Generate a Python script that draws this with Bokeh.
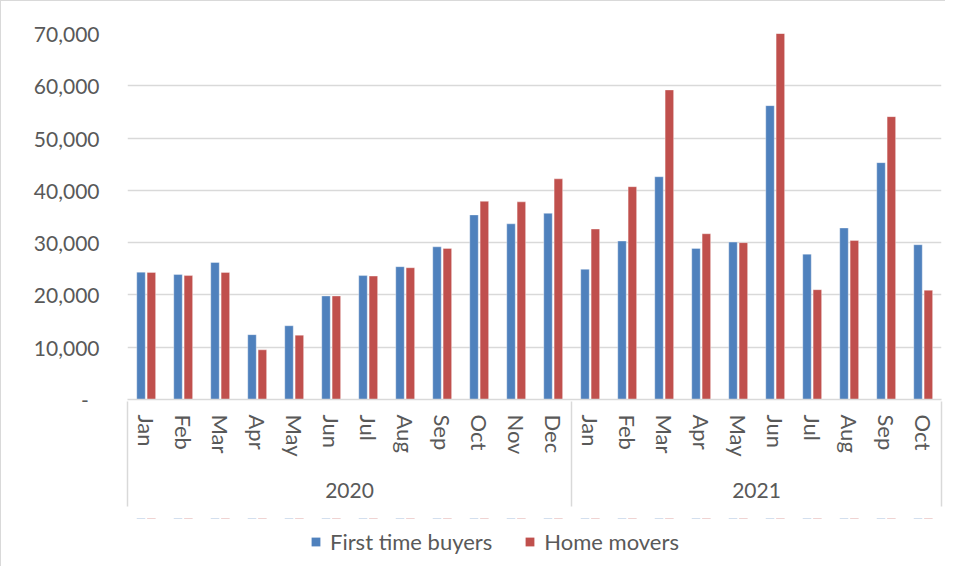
from bokeh.plotting import figure
from bokeh.layouts import column
from bokeh.models import (FactorRange, Range1d, LinearAxis, CategoricalAxis, FixedTicker,
                          NumeralTickFormatter, Legend, LegendItem, ColumnDataSource)
from bokeh.transform import dodge
from bokeh.embed import file_html
from bokeh.resources import INLINE

years = ["2020"] * 12 + ["2021"] * 10
months = ["Jan", "Feb", "Mar", "Apr", "May", "Jun", "Jul", "Aug", "Sep", "Oct", "Nov", "Dec",
          "Jan", "Feb", "Mar", "Apr", "May", "Jun", "Jul", "Aug", "Sep", "Oct"]
first_time_buyers = [24350, 23900, 26200, 12400, 14100, 19800, 23700, 25400, 29200, 35300, 33600, 35600,
                     24900, 30300, 42600, 28900, 30100, 56200, 27800, 32800, 45300, 29600]
home_movers = [24300, 23700, 24300, 9500, 12300, 19800, 23600, 25200, 28900, 37900, 37800, 42200,
               32600, 40700, 59200, 31700, 30000, 70000, 21000, 30400, 54100, 20900]
series_names = ["First time buyers", "Home movers"]
y_ticks = [0, 10000, 20000, 30000, 40000, 50000, 60000, 70000]

FONT = "Lato"
TXT = "#595959"
GRID = "#D9D9D9"
BLUE = "#4F81BD"
RED = "#C0504D"

factors = list(zip(years, months))
src = ColumnDataSource(dict(x=factors, ftb=first_time_buyers, hm=home_movers))

# year groups: boundaries and centres in the factor range's synthetic units
year_names = list(dict.fromkeys(years))
year_bounds = [0]
for yname in year_names:
    year_bounds.append(year_bounds[-1] + years.count(yname))
year_centres = [(a + b) / 2 for a, b in zip(year_bounds[:-1], year_bounds[1:])]

xr = FactorRange(*factors, factor_padding=0, group_padding=0, subgroup_padding=0, range_padding=0)
p = figure(width=945, height=518, x_range=xr, y_range=Range1d(0, 70000),
           output_backend="svg", toolbar_location=None, x_axis_location=None,
           min_border_left=126, min_border_top=32, min_border_right=5, min_border_bottom=120)
p.outline_line_color = None
p.styles = {"border-left": "1px solid #D9D9D9", "border-top": "1px solid #D9D9D9"}

bar_style = dict(width=0.23, source=src, line_color="white", line_alpha=0.35, line_width=1)
r1 = p.vbar(x=dodge("x", -0.135, range=xr), top="ftb", fill_color=BLUE, **bar_style)
r2 = p.vbar(x=dodge("x", 0.145, range=xr), top="hm", fill_color=RED, **bar_style)

# y axis
ya = p.yaxis[0]
ya.ticker = FixedTicker(ticks=y_ticks)
ya.formatter = NumeralTickFormatter(format="0,0")
ya.major_label_overrides = {0: "-\u00a0\u00a0"}
ya.axis_line_color = None
ya.major_tick_line_color = None
ya.minor_tick_line_color = None
ya.major_tick_out = 0
ya.major_tick_in = 0
ya.major_label_standoff = 28
ya.major_label_text_font = FONT
ya.major_label_text_font_size = "21px"
ya.major_label_text_color = TXT
p.ygrid.grid_line_color = GRID
p.ygrid.grid_line_width = 1.5
p.xgrid.visible = False

# month axis
ca = CategoricalAxis()
ca.axis_line_color = GRID
ca.axis_line_width = 1.5
ca.major_tick_line_color = None
ca.major_tick_out = 0
ca.major_tick_in = 0
ca.major_label_orientation = "vertical"
ca.major_label_text_font = FONT
ca.major_label_text_font_size = "22px"
ca.major_label_text_color = TXT
ca.major_label_standoff = 15
ca.group_text_font = FONT
ca.group_text_font_size = "8px"
ca.group_text_color = None
ca.separator_line_color = None
p.add_layout(ca, "below")

# year axis, with the year separator lines drawn as its minor ticks
yr = LinearAxis(ticker=FixedTicker(ticks=year_centres, minor_ticks=year_bounds))
yr.major_label_overrides = {c: n for c, n in zip(year_centres, year_names)}
yr.axis_line_color = None
yr.major_tick_line_color = None
yr.major_tick_in = 0
yr.major_tick_out = 0
yr.minor_tick_line_color = GRID
yr.minor_tick_line_width = 1.5
yr.minor_tick_in = 58
yr.minor_tick_out = 47
yr.major_label_standoff = -24
yr.major_label_text_font = FONT
yr.major_label_text_font_size = "21px"
yr.major_label_text_color = TXT
p.add_layout(yr, "below")

# legend strip below the chart (zero-height proxies of the series, outside its view)
lp = figure(width=945, height=48, x_range=xr, y_range=Range1d(-2, -1),
            output_backend="svg", toolbar_location=None, x_axis_location=None,
            y_axis_location=None, min_border=0)
lp.outline_line_color = None
lp.grid.visible = False
lp.styles = {"border-left": "1px solid #D9D9D9"}
proxy_style = dict(width=0.23, source=src, line_color=None)
lr1 = lp.vbar(x=dodge("x", -0.135, range=xr), top="ftb", bottom="ftb", fill_color=BLUE, **proxy_style)
lr2 = lp.vbar(x=dodge("x", 0.145, range=xr), top="hm", bottom="hm", fill_color=RED, **proxy_style)
legend = Legend(items=[LegendItem(label=series_names[0], renderers=[lr1]),
                       LegendItem(label=series_names[1], renderers=[lr2])],
                orientation="horizontal", location=(183, 11),
                glyph_width=11, glyph_height=11, label_standoff=9, spacing=32,
                padding=0, margin=0, border_line_color=None, background_fill_alpha=0,
                label_text_font=FONT, label_text_font_size="22px", label_text_color=TXT)
lp.add_layout(legend, "center")

open("out.html", "w").write(file_html(column(p, lp, spacing=0), INLINE))
